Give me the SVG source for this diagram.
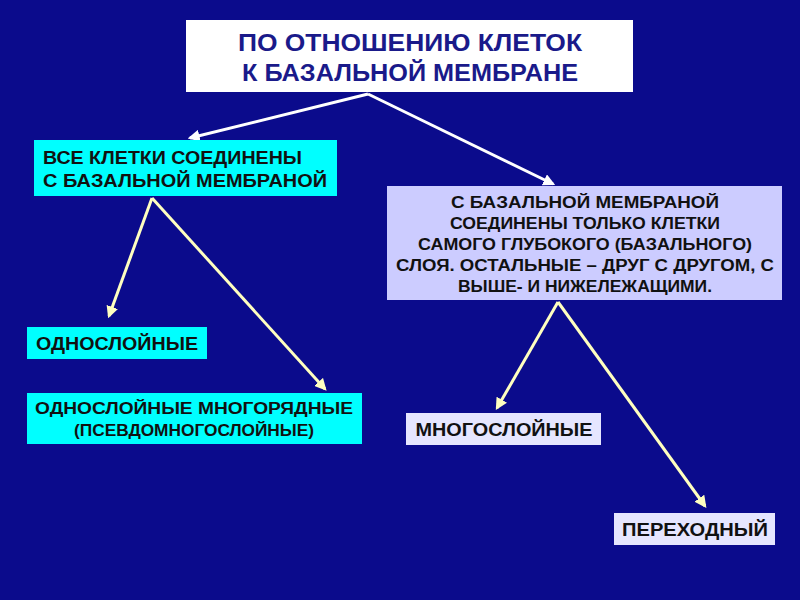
<svg xmlns="http://www.w3.org/2000/svg" width="800" height="600" viewBox="0 0 800 600">
<defs>
<style>
text{font-family:"Liberation Sans",Arial,sans-serif;font-weight:bold;fill:#111;text-anchor:middle}
.w{stroke:#fff;stroke-width:3;fill:none}
.y{stroke:#ffffc0;stroke-width:3;fill:none}
</style>
<marker id="aw" viewBox="0 0 10 10" refX="8" refY="5" markerWidth="4" markerHeight="4" orient="auto"><path d="M0,0L10,5L0,10z" fill="#fff"/></marker>
<marker id="ay" viewBox="0 0 10 10" refX="8" refY="5" markerWidth="4" markerHeight="4" orient="auto"><path d="M0,0L10,5L0,10z" fill="#ffffc0"/></marker>
</defs>
<rect width="800" height="600" fill="#0b0b8c"/>
<g id="connectors">
<path class="w" d="M368,94L190,138" marker-end="url(#aw)"/>
<path class="w" d="M368,94L553,184" marker-end="url(#aw)"/>
<path class="y" d="M152,198L109,316" marker-end="url(#ay)"/>
<path class="y" d="M152,198L325,389" marker-end="url(#ay)"/>
<path class="y" d="M558,302L497,408" marker-end="url(#ay)"/>
<path class="y" d="M558,302L705,506" marker-end="url(#ay)"/>
</g>
<g id="root"><rect x="186" y="20" width="447" height="72" fill="#fff"/>
<text x="410" y="51" font-size="24" textLength="344" lengthAdjust="spacingAndGlyphs" style="fill:#1a1a8a">ПО ОТНОШЕНИЮ КЛЕТОК</text>
<text x="410" y="81" font-size="24" textLength="336" lengthAdjust="spacingAndGlyphs" style="fill:#1a1a8a">К БАЗАЛЬНОЙ МЕМБРАНЕ</text></g>
<g id="all"><rect x="34" y="140" width="303" height="56" fill="#00ffff"/>
<text x="43" y="164" font-size="18" textLength="259" lengthAdjust="spacingAndGlyphs" style="text-anchor:start">ВСЕ КЛЕТКИ СОЕДИНЕНЫ</text>
<text x="43" y="187" font-size="18" textLength="284" lengthAdjust="spacingAndGlyphs" style="text-anchor:start">С БАЗАЛЬНОЙ МЕМБРАНОЙ</text></g>
<g id="basal"><rect x="387" y="186" width="395" height="114" fill="#ccccff"/>
<text x="585" y="208" font-size="16" textLength="268" lengthAdjust="spacingAndGlyphs">С БАЗАЛЬНОЙ МЕМБРАНОЙ</text>
<text x="585" y="229" font-size="16" textLength="270" lengthAdjust="spacingAndGlyphs">СОЕДИНЕНЫ ТОЛЬКО КЛЕТКИ</text>
<text x="585" y="250" font-size="16" textLength="334" lengthAdjust="spacingAndGlyphs">САМОГО ГЛУБОКОГО (БАЗАЛЬНОГО)</text>
<text x="585" y="271" font-size="16" textLength="378" lengthAdjust="spacingAndGlyphs">СЛОЯ. ОСТАЛЬНЫЕ – ДРУГ С ДРУГОМ, С</text>
<text x="585" y="292" font-size="16" textLength="254" lengthAdjust="spacingAndGlyphs">ВЫШЕ- И НИЖЕЛЕЖАЩИМИ.</text></g>
<g id="single"><rect x="27" y="327" width="180" height="32" fill="#00ffff"/>
<text x="117" y="350" font-size="18" textLength="162" lengthAdjust="spacingAndGlyphs">ОДНОСЛОЙНЫЕ</text></g>
<g id="pseudo"><rect x="27" y="393" width="335" height="51" fill="#00ffff"/>
<text x="194" y="414" font-size="16" textLength="318" lengthAdjust="spacingAndGlyphs">ОДНОСЛОЙНЫЕ МНОГОРЯДНЫЕ</text>
<text x="194" y="436" font-size="16" textLength="240" lengthAdjust="spacingAndGlyphs">(ПСЕВДОМНОГОСЛОЙНЫЕ)</text></g>
<g id="multi"><rect x="406" y="413" width="195" height="32" fill="#e6e6ff"/>
<text x="504" y="436" font-size="18" textLength="177" lengthAdjust="spacingAndGlyphs">МНОГОСЛОЙНЫЕ</text></g>
<g id="trans"><rect x="614" y="513" width="161" height="32" fill="#e6e6ff"/>
<text x="695" y="536" font-size="18" textLength="146" lengthAdjust="spacingAndGlyphs">ПЕРЕХОДНЫЙ</text></g>
</svg>
